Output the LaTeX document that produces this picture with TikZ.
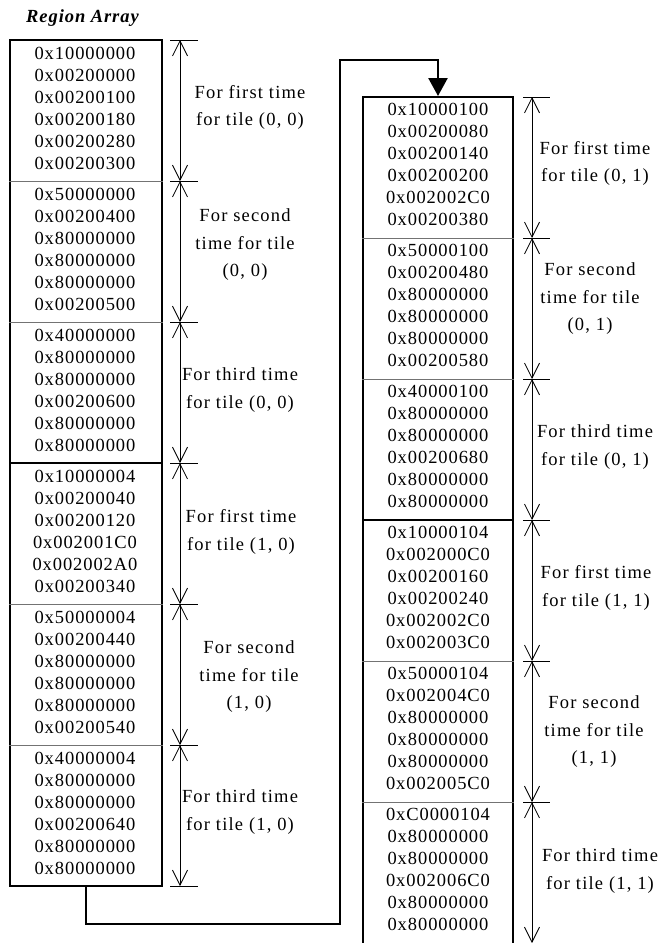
\documentclass[tikz,border=0pt]{standalone}
\usepackage{fontspec}
\setmainfont{Liberation Serif}[LetterSpace=5]
\newfontfamily\lblfont{Liberation Serif}[LetterSpace=6.5]
\usetikzlibrary{arrows.meta}
\tikzset{
  hex/.style={align=center, font=\fontsize{18.5}{22}\selectfont, inner sep=0pt},
  lbl/.style={align=center, font=\lblfont\fontsize{18.5}{27.5}\selectfont, inner sep=0pt},
  regionbox/.style={draw, line width=2pt, inner sep=0pt},
  divline/.style={line width=1pt, black!55},
  thickdiv/.style={line width=2pt},
  tickline/.style={line width=0.8pt},
  dimline/.style={line width=0.8pt, {Straight Barb[length=15pt,width=15pt]}-{Straight Barb[length=15pt,width=15pt]}},
  conn/.style={line width=2.5pt, -{Triangle[length=18pt,width=19pt]}},
}
\begin{document}
\begin{tikzpicture}[x=1pt,y=-1pt]
\useasboundingbox (0,0) rectangle (667,943);

% title
\node[anchor=west, inner sep=0pt, font=\fontsize{18.5}{22}\selectfont\bfseries\itshape] (title) at (26,18) {Region Array};

% boxes
\node[regionbox, minimum width=152pt, minimum height=846pt] (L) at (86,463) {};
\node[regionbox, minimum width=150pt, minimum height=853pt] (R) at (438,523.5) {};

% dividers left
\foreach \yy in {181,322,604,745} \draw[divline] (L.west |- 0,\yy) -- (L.east |- 0,\yy);
\draw[thickdiv] (L.west |- 0,463) -- (L.east |- 0,463);
% dividers right
\foreach \yy in {238,379,661,802} \draw[divline] (R.west |- 0,\yy) -- (R.east |- 0,\yy);
\draw[thickdiv] (R.west |- 0,520) -- (R.east |- 0,520);

% left groups
\node[hex] (L1) at (85,108) {0x10000000\\0x00200000\\0x00200100\\0x00200180\\0x00200280\\0x00200300};
\node[hex] (L2) at (85,249) {0x50000000\\0x00200400\\0x80000000\\0x80000000\\0x80000000\\0x00200500};
\node[hex] (L3) at (85,390) {0x40000000\\0x80000000\\0x80000000\\0x00200600\\0x80000000\\0x80000000};
\node[hex] (L4) at (85,531) {0x10000004\\0x00200040\\0x00200120\\0x002001C0\\0x002002A0\\0x00200340};
\node[hex] (L5) at (85,672) {0x50000004\\0x00200440\\0x80000000\\0x80000000\\0x80000000\\0x00200540};
\node[hex] (L6) at (85,813) {0x40000004\\0x80000000\\0x80000000\\0x00200640\\0x80000000\\0x80000000};

% right groups
\node[hex] (R1) at (438,164) {0x10000100\\0x00200080\\0x00200140\\0x00200200\\0x002002C0\\0x00200380};
\node[hex] (R2) at (438,305) {0x50000100\\0x00200480\\0x80000000\\0x80000000\\0x80000000\\0x00200580};
\node[hex] (R3) at (438,446) {0x40000100\\0x80000000\\0x80000000\\0x00200680\\0x80000000\\0x80000000};
\node[hex] (R4) at (438,587) {0x10000104\\0x002000C0\\0x00200160\\0x00200240\\0x002002C0\\0x002003C0};
\node[hex] (R5) at (438,728) {0x50000104\\0x002004C0\\0x80000000\\0x80000000\\0x80000000\\0x002005C0};
\node[hex] (R6) at (438,869) {0xC0000104\\0x80000000\\0x80000000\\0x002006C0\\0x80000000\\0x80000000};

% dimension points
\foreach \i/\yy in {0/40,1/181,2/322,3/463,4/604,5/745,6/886} {
  \coordinate (ld\i) at (180,\yy);
  \draw[tickline] ([xshift=-10pt]ld\i) -- ([xshift=18pt]ld\i);
}
\foreach \i/\yy in {0/97,1/238,2/379,3/520,4/661,5/802} {
  \coordinate (rd\i) at (532,\yy);
  \draw[tickline] ([xshift=-9pt]rd\i) -- ([xshift=18pt]rd\i);
}
\coordinate (rd6) at (532,943);
\foreach \a/\b in {0/1,1/2,2/3,3/4,4/5,5/6} {
  \draw[dimline] (ld\a) -- (ld\b);
  \draw[dimline] (rd\a) -- (rd\b);
}

% labels left
\node[lbl] (tl1) at (250,107.5) {For first time\\for tile (0, 0)};
\node[lbl] (tl2) at (245,245) {For second\\time for tile\\(0, 0)};
\node[lbl] (tl3) at (240,390) {For third time\\for tile (0, 0)};
\node[lbl] (tl4) at (241,532) {For first time\\for tile (1, 0)};
\node[lbl] (tl5) at (249,677) {For second\\time for tile\\(1, 0)};
\node[lbl] (tl6) at (240,812) {For third time\\for tile (1, 0)};
% labels right
\node[lbl] (tr1) at (595,163.5) {For first time\\for tile (0, 1)};
\node[lbl] (tr2) at (590,299) {For second\\time for tile\\(0, 1)};
\node[lbl] (tr3) at (595,447) {For third time\\for tile (0, 1)};
\node[lbl] (tr4) at (596,588) {For first time\\for tile (1, 1)};
\node[lbl] (tr5) at (594,732) {For second\\time for tile\\(1, 1)};
\node[lbl] (tr6) at (600,871) {For third time\\for tile (1, 1)};

% connector
\coordinate (turnA) at (340,924);
\coordinate (turnB) at (340,60);
\draw[conn] (L.south) |- (turnA) -- (turnB) -| (R.north);
\end{tikzpicture}
\end{document}
